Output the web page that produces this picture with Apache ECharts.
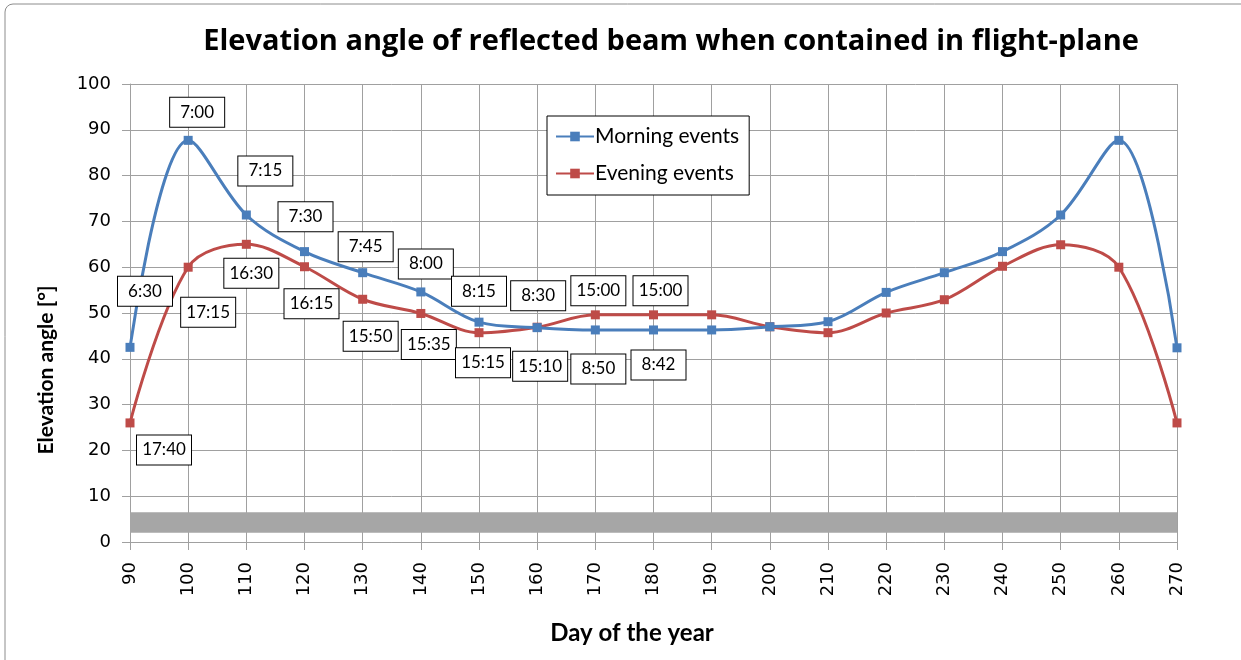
<!DOCTYPE html>
<html>
<head>
<meta charset="utf-8">
<title>Elevation angle of reflected beam</title>
<script src="https://cdn.jsdelivr.net/npm/echarts@6/dist/echarts.min.js"></script>
<style>
  html, body { margin: 0; padding: 0; background: #fff; }
  #main { width: 1241px; height: 660px; }
</style>
</head>
<body>
<div id="main"></div>
<script type="text/javascript">
  // days of the year (x)
  var days = [90, 100, 110, 120, 130, 140, 150, 160, 170, 180, 190, 200, 210, 220, 230, 240, 250, 260, 270];
  // elevation angle [deg]
  var morning = [42.5, 87.7, 71.4, 63.4, 58.8, 54.6, 48.0, 46.8, 46.3, 46.3, 46.3, 47.0, 48.1, 54.5, 58.8, 63.4, 71.4, 87.7, 42.4];
  var evening = [26.0, 60.0, 65.0, 60.1, 53.0, 49.9, 45.7, 46.9, 49.6, 49.6, 49.6, 47.0, 45.7, 50.0, 52.9, 60.2, 64.9, 60.0, 26.0];
  // time labels (only first ten points are labelled)
  var morningTimes = ['6:30', '7:00', '7:15', '7:30', '7:45', '8:00', '8:15', '8:30', '8:50', '8:42'];
  var eveningTimes = ['17:40', '17:15', '16:30', '16:15', '15:50', '15:35', '15:15', '15:10', '15:00', '15:00'];
  // grey band (elevation range)
  var band = [2.0, 6.5];

  // label placement, pixels from the point
  var morningOffsets = [[15, -56], [9, -28], [19, -44], [1, -35], [3, -26], [5, -28], [0, -31], [1, -32], [3, 39], [5, 35]];
  var eveningOffsets = [[34, 27], [20, 45], [5, 29], [7, 37], [8, 37], [8, 31], [4, 30], [3, 39], [3, -24], [7, -24]];

  var BLUE = '#4A7EBB';
  var RED = '#BE4B48';
  var GRID = '#a0a0a0';

  function buildData(ys, times, offsets) {
    return days.map(function (d, i) {
      var item = { value: [d, ys[i]] };
      if (i < times.length) {
        item.label = { show: true, formatter: times[i], offset: offsets[i] };
      }
      return item;
    });
  }

  var boxLabel = {
    show: false,
    position: 'inside',
    color: '#000',
    fontFamily: 'Lato',
    fontSize: 17,
    backgroundColor: '#fff',
    borderColor: '#000',
    borderWidth: 1,
    width: 38,
    lineHeight: 19,
    align: 'center',
    padding: [5, 8]
  };

  var myChart = echarts.init(document.getElementById('main'));

  var option = {
    backgroundColor: '#fff',
    animation: false,
    title: {
      text: 'Elevation angle of reflected beam when contained in flight-plane',
      left: 666,
      textAlign: 'center',
      top: 22,
      textStyle: { fontFamily: 'Open Sans', fontWeight: 'bold', fontSize: 29, color: '#000' }
    },
    legend: {
      orient: 'vertical',
      left: 547,
      top: 116,
      backgroundColor: '#fff',
      borderColor: '#000',
      borderWidth: 1,
      borderRadius: 0,
      padding: [10, 10, 11, 8],
      itemGap: 16,
      itemWidth: 38,
      itemHeight: 12,
      textStyle: { fontFamily: 'Lato', fontSize: 21, color: '#000', padding: [0, 0, 0, -4] },
      data: ['Morning events', 'Evening events']
    },
    grid: { left: 130, right: 64, top: 84, bottom: 118 },
    xAxis: {
      type: 'value',
      min: 90,
      max: 270,
      interval: 10,
      axisLine: { lineStyle: { color: GRID, width: 1 } },
      axisTick: { show: true, length: 8, lineStyle: { color: GRID } },
      axisLabel: { rotate: 90, margin: 20, fontFamily: 'DejaVu Sans', fontSize: 18, color: '#000' },
      splitLine: { show: true, lineStyle: { color: GRID, width: 1 } }
    },
    yAxis: {
      type: 'value',
      min: 0,
      max: 100,
      interval: 10,
      axisLine: { show: true, lineStyle: { color: GRID, width: 1 } },
      axisTick: { show: true, length: 8, lineStyle: { color: GRID } },
      axisLabel: { margin: 19, fontFamily: 'DejaVu Sans', fontSize: 18, color: '#000' },
      splitLine: { show: true, lineStyle: { color: GRID, width: 1 } }
    },
    graphic: [
      {
        type: 'rect', silent: true, z: -10,
        shape: { x: 5, y: 4, width: 1400, height: 800, r: 8 },
        style: { fill: 'none', stroke: '#8c8c8c', lineWidth: 1 }
      },
      {
        type: 'text', x: 46, y: 370, rotation: Math.PI / 2,
        style: { text: 'Elevation angle [°]', fontFamily: 'Lato', fontWeight: 'bold', fontSize: 21,
          fill: '#000', align: 'center', verticalAlign: 'middle' }
      },
      {
        type: 'text', x: 632, y: 633,
        style: { text: 'Day of the year', fontFamily: 'Lato', fontWeight: 'bold', fontSize: 24,
          fill: '#000', align: 'center', verticalAlign: 'middle' }
      }
    ],
    series: [
      {
        name: 'band',
        type: 'line',
        data: [],
        silent: true,
        markArea: {
          silent: true,
          itemStyle: { color: '#a6a6a6' },
          data: [[{ xAxis: days[0], yAxis: band[0] }, { xAxis: days[days.length - 1], yAxis: band[1] }]]
        }
      },
      {
        name: 'Morning events',
        type: 'line',
        smooth: 0.35,
        smoothConstraint: false,
        symbol: 'rect',
        symbolSize: 9,
        itemStyle: { color: BLUE },
        lineStyle: { color: BLUE, width: 3 },
        label: boxLabel,
        z: 3,
        data: buildData(morning, morningTimes, morningOffsets)
      },
      {
        name: 'Evening events',
        type: 'line',
        smooth: 0.35,
        smoothConstraint: false,
        symbol: 'rect',
        symbolSize: 9,
        itemStyle: { color: RED },
        lineStyle: { color: RED, width: 3 },
        label: boxLabel,
        z: 2,
        data: buildData(evening, eveningTimes, eveningOffsets)
      }
    ]
  };

  myChart.setOption(option);
</script>
</body>
</html>
